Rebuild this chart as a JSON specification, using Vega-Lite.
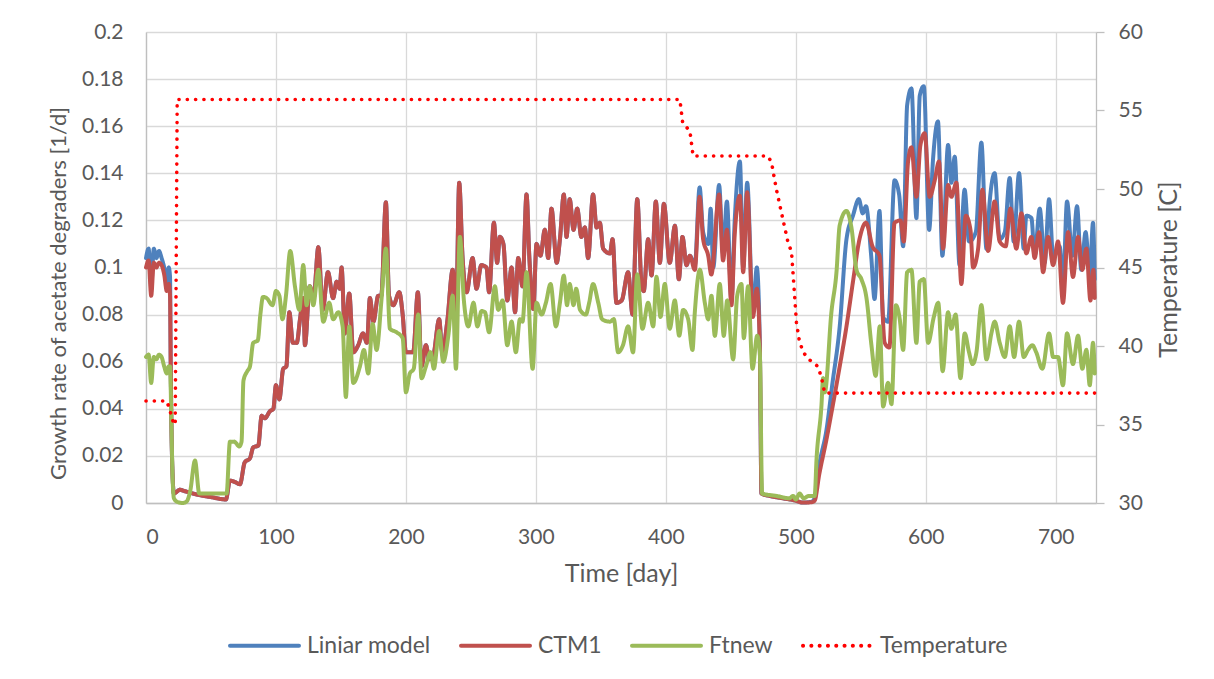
{
"$schema": "https://vega.github.io/schema/vega-lite/v6.json",
"autosize": {"type": "none"},
"width": 950, "height": 471,
"padding": {"left": 146, "top": 32, "right": 118, "bottom": 176},
"background": "white",
"datasets": {
"models": [
{"s":"Liniar model","d":0,"v":0.104},{"s":"Liniar model","d":2,"v":0.108},{"s":"Liniar model","d":4,"v":0.092},{"s":"Liniar model","d":6,"v":0.108},{"s":"Liniar model","d":8,"v":0.104},{"s":"Liniar model","d":10,"v":0.107},{"s":"Liniar model","d":12,"v":0.104},{"s":"Liniar model","d":14,"v":0.1},{"s":"Liniar model","d":16,"v":0.094},{"s":"Liniar model","d":17.5,"v":0.1},{"s":"Liniar model","d":18.5,"v":0.096},{"s":"Liniar model","d":19,"v":0.06},{"s":"Liniar model","d":20,"v":0.02},{"s":"Liniar model","d":21.5,"v":0.004},
{"s":"Liniar model","d":23,"v":0.0045},{"s":"Liniar model","d":26,"v":0.0056},{"s":"Liniar model","d":30,"v":0.005},{"s":"Liniar model","d":40,"v":0.0035},{"s":"Liniar model","d":50,"v":0.0025},{"s":"Liniar model","d":61.5,"v":0.0015},{"s":"Liniar model","d":64.6,"v":0.0095},{"s":"Liniar model","d":68,"v":0.009},{"s":"Liniar model","d":72.3,"v":0.008},{"s":"Liniar model","d":76,"v":0.0173},{"s":"Liniar model","d":80,"v":0.019},{"s":"Liniar model","d":82.5,"v":0.0236},{"s":"Liniar model","d":86.4,"v":0.0244},{"s":"Liniar model","d":89,"v":0.037},{"s":"Liniar model","d":91.5,"v":0.036},{"s":"Liniar model","d":95.4,"v":0.039},{"s":"Liniar model","d":98,"v":0.04},{"s":"Liniar model","d":100,"v":0.05},{"s":"Liniar model","d":102.6,"v":0.044},{"s":"Liniar model","d":105.6,"v":0.057},{"s":"Liniar model","d":108,"v":0.058},{"s":"Liniar model","d":110.3,"v":0.081},{"s":"Liniar model","d":113,"v":0.068},{"s":"Liniar model","d":116,"v":0.068},{"s":"Liniar model","d":118.5,"v":0.078},{"s":"Liniar model","d":121,"v":0.087},{"s":"Liniar model","d":122.3,"v":0.067},{"s":"Liniar model","d":126,"v":0.092},{"s":"Liniar model","d":129,"v":0.087},{"s":"Liniar model","d":132.6,"v":0.1086},{"s":"Liniar model","d":136,"v":0.082},{"s":"Liniar model","d":140,"v":0.098},{"s":"Liniar model","d":144,"v":0.087},{"s":"Liniar model","d":146.7,"v":0.094},{"s":"Liniar model","d":149,"v":0.091},{"s":"Liniar model","d":150.5,"v":0.1},{"s":"Liniar model","d":153,"v":0.072},{"s":"Liniar model","d":156.4,"v":0.089},{"s":"Liniar model","d":159.5,"v":0.064},{"s":"Liniar model","d":163.3,"v":0.067},{"s":"Liniar model","d":167,"v":0.072},{"s":"Liniar model","d":170,"v":0.068},{"s":"Liniar model","d":172.3,"v":0.087},{"s":"Liniar model","d":175,"v":0.077},{"s":"Liniar model","d":178.7,"v":0.088},{"s":"Liniar model","d":181,"v":0.088},{"s":"Liniar model","d":184.6,"v":0.1277},{"s":"Liniar model","d":187,"v":0.088},{"s":"Liniar model","d":190.3,"v":0.084},{"s":"Liniar model","d":194.9,"v":0.0895},{"s":"Liniar model","d":197.5,"v":0.08},{"s":"Liniar model","d":200,"v":0.064},{"s":"Liniar model","d":203,"v":0.064},{"s":"Liniar model","d":205.6,"v":0.064},{"s":"Liniar model","d":209.2,"v":0.0895},{"s":"Liniar model","d":212,"v":0.058},{"s":"Liniar model","d":215.4,"v":0.067},{"s":"Liniar model","d":218,"v":0.061},{"s":"Liniar model","d":221,"v":0.0625},{"s":"Liniar model","d":225.6,"v":0.078},{"s":"Liniar model","d":228,"v":0.064},{"s":"Liniar model","d":231.8,"v":0.077},{"s":"Liniar model","d":236,"v":0.099},{"s":"Liniar model","d":238.5,"v":0.077},{"s":"Liniar model","d":241,"v":0.136},{"s":"Liniar model","d":243.6,"v":0.104},{"s":"Liniar model","d":246.7,"v":0.0895},{"s":"Liniar model","d":251.3,"v":0.104},{"s":"Liniar model","d":254.3,"v":0.091},{"s":"Liniar model","d":258,"v":0.101},{"s":"Liniar model","d":262,"v":0.1},{"s":"Liniar model","d":264,"v":0.0895},{"s":"Liniar model","d":267.7,"v":0.119},{"s":"Liniar model","d":270.2,"v":0.102},{"s":"Liniar model","d":272.3,"v":0.113},{"s":"Liniar model","d":275,"v":0.11},{"s":"Liniar model","d":278,"v":0.086},{"s":"Liniar model","d":281.3,"v":0.1},{"s":"Liniar model","d":284,"v":0.081},{"s":"Liniar model","d":286.4,"v":0.104},{"s":"Liniar model","d":289.7,"v":0.092},{"s":"Liniar model","d":292.8,"v":0.131},{"s":"Liniar model","d":295,"v":0.104},{"s":"Liniar model","d":298,"v":0.0824},{"s":"Liniar model","d":300.5,"v":0.11},{"s":"Liniar model","d":303.5,"v":0.105},{"s":"Liniar model","d":306.9,"v":0.116},{"s":"Liniar model","d":309.5,"v":0.104},{"s":"Liniar model","d":312,"v":0.125},{"s":"Liniar model","d":316,"v":0.102},{"s":"Liniar model","d":318.5,"v":0.112},{"s":"Liniar model","d":321.5,"v":0.131},{"s":"Liniar model","d":323.6,"v":0.113},{"s":"Liniar model","d":326,"v":0.129},{"s":"Liniar model","d":329,"v":0.116},{"s":"Liniar model","d":331.8,"v":0.125},{"s":"Liniar model","d":335,"v":0.113},{"s":"Liniar model","d":337.7,"v":0.117},{"s":"Liniar model","d":340.2,"v":0.104},{"s":"Liniar model","d":344,"v":0.131},{"s":"Liniar model","d":346.7,"v":0.117},{"s":"Liniar model","d":349.2,"v":0.119},{"s":"Liniar model","d":351.8,"v":0.108},{"s":"Liniar model","d":357,"v":0.106},{"s":"Liniar model","d":359,"v":0.112},{"s":"Liniar model","d":362,"v":0.085},{"s":"Liniar model","d":366,"v":0.086},{"s":"Liniar model","d":371,"v":0.098},{"s":"Liniar model","d":374.4,"v":0.08},{"s":"Liniar model","d":378,"v":0.129},{"s":"Liniar model","d":381.3,"v":0.093},{"s":"Liniar model","d":383,"v":0.09},{"s":"Liniar model","d":386.4,"v":0.112},{"s":"Liniar model","d":389,"v":0.0966},{"s":"Liniar model","d":392.3,"v":0.128},{"s":"Liniar model","d":395.4,"v":0.102},{"s":"Liniar model","d":398.5,"v":0.127},{"s":"Liniar model","d":403,"v":0.102},{"s":"Liniar model","d":407,"v":0.1177},{"s":"Liniar model","d":410,"v":0.095},{"s":"Liniar model","d":412.8,"v":0.113},{"s":"Liniar model","d":415.9,"v":0.101},{"s":"Liniar model","d":418.5,"v":0.105},
{"s":"Liniar model","d":422.3,"v":0.101},{"s":"Liniar model","d":426,"v":0.134},{"s":"Liniar model","d":428.7,"v":0.115},{"s":"Liniar model","d":432.6,"v":0.11},{"s":"Liniar model","d":434.5,"v":0.125},{"s":"Liniar model","d":436.5,"v":0.1},{"s":"Liniar model","d":441,"v":0.135},{"s":"Liniar model","d":444,"v":0.106},{"s":"Liniar model","d":447,"v":0.128},{"s":"Liniar model","d":450.5,"v":0.086},{"s":"Liniar model","d":453,"v":0.12},{"s":"Liniar model","d":457,"v":0.145},{"s":"Liniar model","d":459.5,"v":0.1},{"s":"Liniar model","d":462.6,"v":0.136},{"s":"Liniar model","d":467,"v":0.081},{"s":"Liniar model","d":470,"v":0.1},{"s":"Liniar model","d":472.3,"v":0.068},{"s":"Liniar model","d":473.6,"v":0.004},{"s":"Liniar model","d":480,"v":0.003},{"s":"Liniar model","d":490,"v":0.002},{"s":"Liniar model","d":500,"v":0.001},{"s":"Liniar model","d":505,"v":0.0002},{"s":"Liniar model","d":512,"v":0.0005},{"s":"Liniar model","d":514.5,"v":0.002},{"s":"Liniar model","d":518,"v":0.016},{"s":"Liniar model","d":523.6,"v":0.031},{"s":"Liniar model","d":528,"v":0.05},{"s":"Liniar model","d":533.8,"v":0.075},{"s":"Liniar model","d":539,"v":0.112},{"s":"Liniar model","d":544,"v":0.122},{"s":"Liniar model","d":548.5,"v":0.129},{"s":"Liniar model","d":551.5,"v":0.123},{"s":"Liniar model","d":554,"v":0.126},{"s":"Liniar model","d":558,"v":0.105},{"s":"Liniar model","d":560.6,"v":0.0866},{"s":"Liniar model","d":564.4,"v":0.124},{"s":"Liniar model","d":567.2,"v":0.079},{"s":"Liniar model","d":571,"v":0.077},{"s":"Liniar model","d":576,"v":0.137},{"s":"Liniar model","d":579.5,"v":0.131},{"s":"Liniar model","d":582.6,"v":0.109},{"s":"Liniar model","d":585.7,"v":0.169},{"s":"Liniar model","d":589,"v":0.176},{"s":"Liniar model","d":592.8,"v":0.121},{"s":"Liniar model","d":595.4,"v":0.173},{"s":"Liniar model","d":598.5,"v":0.177},{"s":"Liniar model","d":602.6,"v":0.116},{"s":"Liniar model","d":605.6,"v":0.146},{"s":"Liniar model","d":609.4,"v":0.162},{"s":"Liniar model","d":612.8,"v":0.105},{"s":"Liniar model","d":617.2,"v":0.152},{"s":"Liniar model","d":619.7,"v":0.136},{"s":"Liniar model","d":622.3,"v":0.147},{"s":"Liniar model","d":626,"v":0.101},{"s":"Liniar model","d":629.9,"v":0.133},{"s":"Liniar model","d":633.3,"v":0.111},{"s":"Liniar model","d":638.5,"v":0.115},{"s":"Liniar model","d":642.8,"v":0.153},{"s":"Liniar model","d":646.7,"v":0.108},{"s":"Liniar model","d":649.2,"v":0.128},{"s":"Liniar model","d":653,"v":0.14},{"s":"Liniar model","d":656.9,"v":0.112},{"s":"Liniar model","d":660.8,"v":0.115},{"s":"Liniar model","d":664.6,"v":0.138},{"s":"Liniar model","d":667.7,"v":0.111},{"s":"Liniar model","d":671.8,"v":0.14},{"s":"Liniar model","d":675.4,"v":0.108},{"s":"Liniar model","d":677.4,"v":0.122},{"s":"Liniar model","d":681.3,"v":0.121},{"s":"Liniar model","d":683.8,"v":0.105},{"s":"Liniar model","d":687.7,"v":0.125},{"s":"Liniar model","d":691.5,"v":0.102},{"s":"Liniar model","d":694.9,"v":0.129},{"s":"Liniar model","d":698,"v":0.105},{"s":"Liniar model","d":703,"v":0.109},{"s":"Liniar model","d":705.6,"v":0.092},{"s":"Liniar model","d":708.7,"v":0.128},{"s":"Liniar model","d":712.8,"v":0.105},{"s":"Liniar model","d":716.4,"v":0.126},{"s":"Liniar model","d":719.7,"v":0.099},{"s":"Liniar model","d":723,"v":0.115},{"s":"Liniar model","d":726.2,"v":0.097},{"s":"Liniar model","d":728.7,"v":0.119},{"s":"Liniar model","d":730,"v":0.095},
{"s":"CTM1","d":0,"v":0.1},{"s":"CTM1","d":2,"v":0.103},{"s":"CTM1","d":4,"v":0.088},{"s":"CTM1","d":6,"v":0.102},{"s":"CTM1","d":8,"v":0.1},{"s":"CTM1","d":10,"v":0.102},{"s":"CTM1","d":12,"v":0.101},{"s":"CTM1","d":14,"v":0.097},{"s":"CTM1","d":16,"v":0.09},{"s":"CTM1","d":17.5,"v":0.093},{"s":"CTM1","d":18.5,"v":0.088},{"s":"CTM1","d":19,"v":0.06},{"s":"CTM1","d":20,"v":0.02},{"s":"CTM1","d":21.5,"v":0.004},{"s":"CTM1","d":23,"v":0.0045},{"s":"CTM1","d":26,"v":0.0056},{"s":"CTM1","d":30,"v":0.005},{"s":"CTM1","d":40,"v":0.0035},{"s":"CTM1","d":50,"v":0.0025},{"s":"CTM1","d":61.5,"v":0.0015},{"s":"CTM1","d":64.6,"v":0.0095},{"s":"CTM1","d":68,"v":0.009},{"s":"CTM1","d":72.3,"v":0.008},{"s":"CTM1","d":76,"v":0.0173},{"s":"CTM1","d":80,"v":0.019},{"s":"CTM1","d":82.5,"v":0.0236},{"s":"CTM1","d":86.4,"v":0.0244},{"s":"CTM1","d":89,"v":0.037},{"s":"CTM1","d":91.5,"v":0.036},{"s":"CTM1","d":95.4,"v":0.039},{"s":"CTM1","d":98,"v":0.04},{"s":"CTM1","d":100,"v":0.05},{"s":"CTM1","d":102.6,"v":0.044},{"s":"CTM1","d":105.6,"v":0.057},{"s":"CTM1","d":108,"v":0.058},{"s":"CTM1","d":110.3,"v":0.081},{"s":"CTM1","d":113,"v":0.068},{"s":"CTM1","d":116,"v":0.068},{"s":"CTM1","d":118.5,"v":0.078},{"s":"CTM1","d":121,"v":0.087},{"s":"CTM1","d":122.3,"v":0.067},{"s":"CTM1","d":126,"v":0.092},{"s":"CTM1","d":129,"v":0.087},{"s":"CTM1","d":132.6,"v":0.1086},{"s":"CTM1","d":136,"v":0.082},{"s":"CTM1","d":140,"v":0.098},{"s":"CTM1","d":144,"v":0.087},{"s":"CTM1","d":146.7,"v":0.094},{"s":"CTM1","d":149,"v":0.091},{"s":"CTM1","d":150.5,"v":0.1},{"s":"CTM1","d":153,"v":0.072},{"s":"CTM1","d":156.4,"v":0.089},{"s":"CTM1","d":159.5,"v":0.064},{"s":"CTM1","d":163.3,"v":0.067},{"s":"CTM1","d":167,"v":0.072},{"s":"CTM1","d":170,"v":0.068},{"s":"CTM1","d":172.3,"v":0.087},{"s":"CTM1","d":175,"v":0.077},{"s":"CTM1","d":178.7,"v":0.088},{"s":"CTM1","d":181,"v":0.088},{"s":"CTM1","d":184.6,"v":0.1277},{"s":"CTM1","d":187,"v":0.088},{"s":"CTM1","d":190.3,"v":0.084},{"s":"CTM1","d":194.9,"v":0.0895},{"s":"CTM1","d":197.5,"v":0.08},{"s":"CTM1","d":200,"v":0.064},{"s":"CTM1","d":203,"v":0.064},{"s":"CTM1","d":205.6,"v":0.064},{"s":"CTM1","d":209.2,"v":0.0895},{"s":"CTM1","d":212,"v":0.058},{"s":"CTM1","d":215.4,"v":0.067},{"s":"CTM1","d":218,"v":0.061},{"s":"CTM1","d":221,"v":0.0625},{"s":"CTM1","d":225.6,"v":0.078},{"s":"CTM1","d":228,"v":0.064},{"s":"CTM1","d":231.8,"v":0.077},{"s":"CTM1","d":236,"v":0.099},{"s":"CTM1","d":238.5,"v":0.077},{"s":"CTM1","d":241,"v":0.136},{"s":"CTM1","d":243.6,"v":0.104},{"s":"CTM1","d":246.7,"v":0.0895},{"s":"CTM1","d":251.3,"v":0.104},{"s":"CTM1","d":254.3,"v":0.091},{"s":"CTM1","d":258,"v":0.101},{"s":"CTM1","d":262,"v":0.1},{"s":"CTM1","d":264,"v":0.0895},{"s":"CTM1","d":267.7,"v":0.119},{"s":"CTM1","d":270.2,"v":0.102},{"s":"CTM1","d":272.3,"v":0.113},{"s":"CTM1","d":275,"v":0.11},{"s":"CTM1","d":278,"v":0.086},{"s":"CTM1","d":281.3,"v":0.1},{"s":"CTM1","d":284,"v":0.081},{"s":"CTM1","d":286.4,"v":0.104},{"s":"CTM1","d":289.7,"v":0.092},{"s":"CTM1","d":292.8,"v":0.131},{"s":"CTM1","d":295,"v":0.104},{"s":"CTM1","d":298,"v":0.0824},{"s":"CTM1","d":300.5,"v":0.11},{"s":"CTM1","d":303.5,"v":0.105},{"s":"CTM1","d":306.9,"v":0.116},{"s":"CTM1","d":309.5,"v":0.104},{"s":"CTM1","d":312,"v":0.125},{"s":"CTM1","d":316,"v":0.102},{"s":"CTM1","d":318.5,"v":0.112},{"s":"CTM1","d":321.5,"v":0.131},{"s":"CTM1","d":323.6,"v":0.113},{"s":"CTM1","d":326,"v":0.129},{"s":"CTM1","d":329,"v":0.116},{"s":"CTM1","d":331.8,"v":0.125},{"s":"CTM1","d":335,"v":0.113},{"s":"CTM1","d":337.7,"v":0.117},{"s":"CTM1","d":340.2,"v":0.104},{"s":"CTM1","d":344,"v":0.131},{"s":"CTM1","d":346.7,"v":0.117},{"s":"CTM1","d":349.2,"v":0.119},{"s":"CTM1","d":351.8,"v":0.108},{"s":"CTM1","d":357,"v":0.106},{"s":"CTM1","d":359,"v":0.112},{"s":"CTM1","d":362,"v":0.085},{"s":"CTM1","d":366,"v":0.086},{"s":"CTM1","d":371,"v":0.098},{"s":"CTM1","d":374.4,"v":0.08},{"s":"CTM1","d":378,"v":0.129},{"s":"CTM1","d":381.3,"v":0.093},{"s":"CTM1","d":383,"v":0.09},{"s":"CTM1","d":386.4,"v":0.112},{"s":"CTM1","d":389,"v":0.0966},{"s":"CTM1","d":392.3,"v":0.128},{"s":"CTM1","d":395.4,"v":0.102},{"s":"CTM1","d":398.5,"v":0.127},{"s":"CTM1","d":403,"v":0.102},{"s":"CTM1","d":407,"v":0.1177},{"s":"CTM1","d":410,"v":0.095},{"s":"CTM1","d":412.8,"v":0.113},{"s":"CTM1","d":415.9,"v":0.101},{"s":"CTM1","d":418.5,"v":0.105},{"s":"CTM1","d":422.3,"v":0.099},{"s":"CTM1","d":426,"v":0.13},{"s":"CTM1","d":428.7,"v":0.112},{"s":"CTM1","d":432.6,"v":0.105},{"s":"CTM1","d":435,"v":0.097},{"s":"CTM1","d":441,"v":0.131},{"s":"CTM1","d":444,"v":0.103},{"s":"CTM1","d":447,"v":0.116},{"s":"CTM1","d":450.5,"v":0.084},{"s":"CTM1","d":453,"v":0.114},{"s":"CTM1","d":457,"v":0.1305},{"s":"CTM1","d":459.5,"v":0.098},{"s":"CTM1","d":462.6,"v":0.132},{"s":"CTM1","d":467,"v":0.079},{"s":"CTM1","d":470,"v":0.091},{"s":"CTM1","d":472.3,"v":0.067},{"s":"CTM1","d":473.6,"v":0.004},{"s":"CTM1","d":480,"v":0.003},{"s":"CTM1","d":490,"v":0.002},{"s":"CTM1","d":500,"v":0.001},{"s":"CTM1","d":505,"v":0.0002},{"s":"CTM1","d":512,"v":0.0003},{"s":"CTM1","d":514.5,"v":0.001},{"s":"CTM1","d":518,"v":0.012},{"s":"CTM1","d":523.6,"v":0.027},{"s":"CTM1","d":528,"v":0.04},{"s":"CTM1","d":533.8,"v":0.058},{"s":"CTM1","d":539,"v":0.075},{"s":"CTM1","d":544,"v":0.094},{"s":"CTM1","d":549,"v":0.112},{"s":"CTM1","d":554,"v":0.119},{"s":"CTM1","d":559,"v":0.109},{"s":"CTM1","d":564.4,"v":0.105},{"s":"CTM1","d":568.4,"v":0.068},{"s":"CTM1","d":572,"v":0.066},{"s":"CTM1","d":576,"v":0.119},{"s":"CTM1","d":580.6,"v":0.12},{"s":"CTM1","d":583.1,"v":0.111},{"s":"CTM1","d":586.4,"v":0.145},{"s":"CTM1","d":589,"v":0.151},{"s":"CTM1","d":592.8,"v":0.13},{"s":"CTM1","d":595.9,"v":0.152},{"s":"CTM1","d":599.2,"v":0.157},{"s":"CTM1","d":603,"v":0.13},{"s":"CTM1","d":606.9,"v":0.137},{"s":"CTM1","d":610.2,"v":0.145},{"s":"CTM1","d":613.3,"v":0.108},{"s":"CTM1","d":617.2,"v":0.135},{"s":"CTM1","d":619.7,"v":0.13},{"s":"CTM1","d":623.6,"v":0.136},{"s":"CTM1","d":627.4,"v":0.093},{"s":"CTM1","d":630.8,"v":0.122},{"s":"CTM1","d":634.4,"v":0.116},{"s":"CTM1","d":636.4,"v":0.1},{"s":"CTM1","d":640.3,"v":0.108},{"s":"CTM1","d":643.6,"v":0.133},{"s":"CTM1","d":648,"v":0.107},{"s":"CTM1","d":653,"v":0.128},{"s":"CTM1","d":656.9,"v":0.111},{"s":"CTM1","d":661.5,"v":0.109},{"s":"CTM1","d":665.1,"v":0.125},{"s":"CTM1","d":669.7,"v":0.108},{"s":"CTM1","d":673.6,"v":0.123},{"s":"CTM1","d":677.4,"v":0.106},{"s":"CTM1","d":681.3,"v":0.113},{"s":"CTM1","d":683.8,"v":0.104},{"s":"CTM1","d":687.2,"v":0.115},{"s":"CTM1","d":690.3,"v":0.098},{"s":"CTM1","d":694.1,"v":0.113},{"s":"CTM1","d":698,"v":0.101},{"s":"CTM1","d":701.8,"v":0.111},{"s":"CTM1","d":705.6,"v":0.085},{"s":"CTM1","d":709.5,"v":0.115},{"s":"CTM1","d":713.3,"v":0.096},{"s":"CTM1","d":717.2,"v":0.113},{"s":"CTM1","d":720.5,"v":0.099},{"s":"CTM1","d":723.6,"v":0.108},{"s":"CTM1","d":726.7,"v":0.086},{"s":"CTM1","d":729,"v":0.099},{"s":"CTM1","d":730,"v":0.087},
{"s":"Ftnew","d":0,"v":0.062},{"s":"Ftnew","d":2,"v":0.063},{"s":"Ftnew","d":4,"v":0.051},{"s":"Ftnew","d":6,"v":0.062},{"s":"Ftnew","d":8,"v":0.061},{"s":"Ftnew","d":10,"v":0.063},{"s":"Ftnew","d":12,"v":0.062},{"s":"Ftnew","d":14,"v":0.058},{"s":"Ftnew","d":16,"v":0.055},{"s":"Ftnew","d":17.5,"v":0.058},{"s":"Ftnew","d":18.5,"v":0.058},{"s":"Ftnew","d":19.5,"v":0.035},{"s":"Ftnew","d":20.5,"v":0.01},{"s":"Ftnew","d":21.5,"v":0.002},{"s":"Ftnew","d":24,"v":0.0005},{"s":"Ftnew","d":28,"v":0.0},{"s":"Ftnew","d":31,"v":0.0005},{"s":"Ftnew","d":34,"v":0.005},{"s":"Ftnew","d":37.7,"v":0.018},{"s":"Ftnew","d":41,"v":0.004},{"s":"Ftnew","d":50,"v":0.004},{"s":"Ftnew","d":62,"v":0.004},{"s":"Ftnew","d":64.6,"v":0.026},{"s":"Ftnew","d":68,"v":0.026},{"s":"Ftnew","d":71.8,"v":0.024},{"s":"Ftnew","d":73.5,"v":0.026},{"s":"Ftnew","d":75,"v":0.052},{"s":"Ftnew","d":78,"v":0.056},{"s":"Ftnew","d":80,"v":0.058},{"s":"Ftnew","d":82.5,"v":0.068},{"s":"Ftnew","d":86,"v":0.069},{"s":"Ftnew","d":88,"v":0.08},{"s":"Ftnew","d":90,"v":0.0875},{"s":"Ftnew","d":92.8,"v":0.087},{"s":"Ftnew","d":97.4,"v":0.084},{"s":"Ftnew","d":100,"v":0.09},{"s":"Ftnew","d":102.6,"v":0.088},{"s":"Ftnew","d":105,"v":0.078},{"s":"Ftnew","d":107.7,"v":0.088},{"s":"Ftnew","d":111,"v":0.107},{"s":"Ftnew","d":114.6,"v":0.092},{"s":"Ftnew","d":118,"v":0.082},{"s":"Ftnew","d":121,"v":0.101},{"s":"Ftnew","d":123.6,"v":0.084},{"s":"Ftnew","d":126,"v":0.092},{"s":"Ftnew","d":128.7,"v":0.084},{"s":"Ftnew","d":132.6,"v":0.099},{"s":"Ftnew","d":136.4,"v":0.077},{"s":"Ftnew","d":141,"v":0.085},{"s":"Ftnew","d":144,"v":0.078},{"s":"Ftnew","d":148,"v":0.081},{"s":"Ftnew","d":151.3,"v":0.075},{"s":"Ftnew","d":153.8,"v":0.045},{"s":"Ftnew","d":156.4,"v":0.075},{"s":"Ftnew","d":159.5,"v":0.051},{"s":"Ftnew","d":164.6,"v":0.058},{"s":"Ftnew","d":167.7,"v":0.065},{"s":"Ftnew","d":171,"v":0.055},{"s":"Ftnew","d":174.4,"v":0.076},{"s":"Ftnew","d":177.4,"v":0.065},{"s":"Ftnew","d":181.3,"v":0.087},{"s":"Ftnew","d":184.6,"v":0.108},{"s":"Ftnew","d":187.7,"v":0.074},{"s":"Ftnew","d":192.8,"v":0.0725},{"s":"Ftnew","d":197.5,"v":0.07},{"s":"Ftnew","d":200,"v":0.047},{"s":"Ftnew","d":203,"v":0.055},{"s":"Ftnew","d":206,"v":0.057},{"s":"Ftnew","d":209.5,"v":0.08},{"s":"Ftnew","d":212,"v":0.053},{"s":"Ftnew","d":215.4,"v":0.058},{"s":"Ftnew","d":219,"v":0.064},{"s":"Ftnew","d":221.5,"v":0.057},{"s":"Ftnew","d":225.6,"v":0.073},{"s":"Ftnew","d":228.7,"v":0.06},{"s":"Ftnew","d":232.6,"v":0.071},{"s":"Ftnew","d":236,"v":0.088},{"s":"Ftnew","d":238.5,"v":0.057},{"s":"Ftnew","d":241.5,"v":0.113},{"s":"Ftnew","d":244.6,"v":0.086},{"s":"Ftnew","d":248,"v":0.075},{"s":"Ftnew","d":252,"v":0.085},{"s":"Ftnew","d":255,"v":0.075},{"s":"Ftnew","d":258.2,"v":0.0815},{"s":"Ftnew","d":260.8,"v":0.081},{"s":"Ftnew","d":264,"v":0.0725},{"s":"Ftnew","d":268.5,"v":0.092},{"s":"Ftnew","d":271,"v":0.082},{"s":"Ftnew","d":274.4,"v":0.086},{"s":"Ftnew","d":278,"v":0.067},{"s":"Ftnew","d":281.3,"v":0.077},{"s":"Ftnew","d":284.6,"v":0.064},{"s":"Ftnew","d":287.7,"v":0.078},{"s":"Ftnew","d":289.7,"v":0.077},{"s":"Ftnew","d":292.8,"v":0.098},{"s":"Ftnew","d":297.5,"v":0.057},{"s":"Ftnew","d":300.5,"v":0.085},{"s":"Ftnew","d":304.4,"v":0.08},{"s":"Ftnew","d":307.7,"v":0.085},{"s":"Ftnew","d":311.3,"v":0.093},{"s":"Ftnew","d":315.4,"v":0.075},{"s":"Ftnew","d":318.5,"v":0.085},{"s":"Ftnew","d":321.5,"v":0.0965},{"s":"Ftnew","d":324,"v":0.084},{"s":"Ftnew","d":326,"v":0.093},{"s":"Ftnew","d":329,"v":0.084},{"s":"Ftnew","d":331,"v":0.091},{"s":"Ftnew","d":334,"v":0.082},{"s":"Ftnew","d":338.4,"v":0.08},{"s":"Ftnew","d":341,"v":0.085},{"s":"Ftnew","d":344,"v":0.093},{"s":"Ftnew","d":348,"v":0.085},{"s":"Ftnew","d":351,"v":0.078},{"s":"Ftnew","d":357,"v":0.077},{"s":"Ftnew","d":360,"v":0.078},{"s":"Ftnew","d":363.3,"v":0.064},{"s":"Ftnew","d":367,"v":0.067},{"s":"Ftnew","d":371,"v":0.075},{"s":"Ftnew","d":374.8,"v":0.064},{"s":"Ftnew","d":378,"v":0.097},{"s":"Ftnew","d":382,"v":0.074},{"s":"Ftnew","d":386.4,"v":0.085},{"s":"Ftnew","d":390.3,"v":0.075},{"s":"Ftnew","d":392.8,"v":0.096},{"s":"Ftnew","d":395.9,"v":0.079},{"s":"Ftnew","d":399.2,"v":0.093},{"s":"Ftnew","d":403,"v":0.074},{"s":"Ftnew","d":406.9,"v":0.086},{"s":"Ftnew","d":410.3,"v":0.071},{"s":"Ftnew","d":413.3,"v":0.082},{"s":"Ftnew","d":417.2,"v":0.078},{"s":"Ftnew","d":420.5,"v":0.065},{"s":"Ftnew","d":422.3,"v":0.081},{"s":"Ftnew","d":426.2,"v":0.099},{"s":"Ftnew","d":430,"v":0.085},{"s":"Ftnew","d":432.6,"v":0.078},{"s":"Ftnew","d":435.1,"v":0.088},{"s":"Ftnew","d":437.7,"v":0.071},{"s":"Ftnew","d":441.5,"v":0.093},{"s":"Ftnew","d":444.6,"v":0.071},{"s":"Ftnew","d":447.2,"v":0.086},{"s":"Ftnew","d":451.8,"v":0.061},{"s":"Ftnew","d":454.9,"v":0.088},{"s":"Ftnew","d":458.2,"v":0.093},{"s":"Ftnew","d":460,"v":0.07},{"s":"Ftnew","d":463.3,"v":0.092},{"s":"Ftnew","d":466.7,"v":0.057},{"s":"Ftnew","d":470.3,"v":0.071},{"s":"Ftnew","d":472.3,"v":0.064},{"s":"Ftnew","d":474.1,"v":0.004},{"s":"Ftnew","d":485,"v":0.003},{"s":"Ftnew","d":495,"v":0.002},{"s":"Ftnew","d":498,"v":0.003},{"s":"Ftnew","d":500,"v":0.0015},{"s":"Ftnew","d":503,"v":0.004},{"s":"Ftnew","d":506,"v":0.002},{"s":"Ftnew","d":510,"v":0.003},{"s":"Ftnew","d":514.5,"v":0.003},{"s":"Ftnew","d":516,"v":0.019},{"s":"Ftnew","d":519.7,"v":0.041},{"s":"Ftnew","d":521,"v":0.053},{"s":"Ftnew","d":522.3,"v":0.047},{"s":"Ftnew","d":527.4,"v":0.081},{"s":"Ftnew","d":531.3,"v":0.098},{"s":"Ftnew","d":533.8,"v":0.118},{"s":"Ftnew","d":539,"v":0.124},{"s":"Ftnew","d":542.8,"v":0.117},{"s":"Ftnew","d":546.7,"v":0.099},{"s":"Ftnew","d":550.5,"v":0.095},{"s":"Ftnew","d":554.4,"v":0.087},{"s":"Ftnew","d":558.2,"v":0.067},{"s":"Ftnew","d":561.5,"v":0.054},{"s":"Ftnew","d":564.6,"v":0.075},{"s":"Ftnew","d":567.2,"v":0.041},{"s":"Ftnew","d":571,"v":0.051},{"s":"Ftnew","d":573.6,"v":0.042},{"s":"Ftnew","d":577,"v":0.084},{"s":"Ftnew","d":580,"v":0.078},{"s":"Ftnew","d":582.6,"v":0.065},{"s":"Ftnew","d":585.7,"v":0.098},{"s":"Ftnew","d":589,"v":0.099},{"s":"Ftnew","d":592.8,"v":0.068},{"s":"Ftnew","d":595.4,"v":0.094},{"s":"Ftnew","d":598.5,"v":0.095},{"s":"Ftnew","d":601.8,"v":0.068},{"s":"Ftnew","d":606.2,"v":0.079},{"s":"Ftnew","d":609.6,"v":0.085},{"s":"Ftnew","d":613,"v":0.056},{"s":"Ftnew","d":617.2,"v":0.081},{"s":"Ftnew","d":619.7,"v":0.074},{"s":"Ftnew","d":623,"v":0.08},{"s":"Ftnew","d":626.7,"v":0.053},{"s":"Ftnew","d":630,"v":0.072},{"s":"Ftnew","d":633.3,"v":0.064},{"s":"Ftnew","d":636,"v":0.059},{"s":"Ftnew","d":639,"v":0.064},{"s":"Ftnew","d":642.8,"v":0.084},{"s":"Ftnew","d":646.7,"v":0.061},{"s":"Ftnew","d":650.5,"v":0.072},{"s":"Ftnew","d":653,"v":0.077},{"s":"Ftnew","d":656.9,"v":0.068},{"s":"Ftnew","d":660.8,"v":0.062},{"s":"Ftnew","d":664.6,"v":0.075},{"s":"Ftnew","d":668,"v":0.062},{"s":"Ftnew","d":671.8,"v":0.077},{"s":"Ftnew","d":675.4,"v":0.062},{"s":"Ftnew","d":678.7,"v":0.065},{"s":"Ftnew","d":682,"v":0.067},{"s":"Ftnew","d":685,"v":0.064},{"s":"Ftnew","d":689.7,"v":0.057},{"s":"Ftnew","d":694.9,"v":0.072},{"s":"Ftnew","d":698,"v":0.062},{"s":"Ftnew","d":701.8,"v":0.062},{"s":"Ftnew","d":705.6,"v":0.05},{"s":"Ftnew","d":708.7,"v":0.072},{"s":"Ftnew","d":713.3,"v":0.059},{"s":"Ftnew","d":717.2,"v":0.071},{"s":"Ftnew","d":720.5,"v":0.057},{"s":"Ftnew","d":723.6,"v":0.065},{"s":"Ftnew","d":726.2,"v":0.05},{"s":"Ftnew","d":728.7,"v":0.068},{"s":"Ftnew","d":730,"v":0.055}
],
"temp": [
{"s":"Temperature","d":0,"t":36.5},{"s":"Temperature","d":16,"t":36.5},{"s":"Temperature","d":18,"t":36},{"s":"Temperature","d":21.5,"t":35},{"s":"Temperature","d":22.5,"t":35},{"s":"Temperature","d":24,"t":55.7},{"s":"Temperature","d":410.8,"t":55.7},{"s":"Temperature","d":413,"t":54.2},{"s":"Temperature","d":418.5,"t":53.7},{"s":"Temperature","d":421,"t":52.1},{"s":"Temperature","d":478.5,"t":52.1},{"s":"Temperature","d":481.3,"t":51.7},{"s":"Temperature","d":485,"t":50},{"s":"Temperature","d":490,"t":48.1},{"s":"Temperature","d":494,"t":46.6},{"s":"Temperature","d":496.7,"t":46},{"s":"Temperature","d":498,"t":44.5},{"s":"Temperature","d":500.5,"t":41.5},{"s":"Temperature","d":502.6,"t":40.4},{"s":"Temperature","d":505.6,"t":39.6},{"s":"Temperature","d":510.8,"t":39.1},{"s":"Temperature","d":517,"t":38.7},{"s":"Temperature","d":519.7,"t":38},{"s":"Temperature","d":522.3,"t":37},{"s":"Temperature","d":730,"t":37}
]
},
"layer": [
{
"data": {"name": "models"},
"mark": {"type": "line", "strokeWidth": 4, "interpolate": "monotone", "strokeCap": "round", "strokeJoin": "round"},
"encoding": {
"x": {"field": "d", "type": "quantitative", "scale": {"domain": [0, 731], "nice": false, "zero": false},
"axis": {"title": "Time [day]", "values": [0,100,200,300,400,500,600,700], "ticks": false, "labelPadding": 23, "grid": true, "titleX": 475, "titleY": 70, "titleBaseline": "middle", "titleFontSize": 25}},
"y": {"field": "v", "type": "quantitative", "scale": {"domain": [0, 0.2], "nice": false},
"axis": {"title": "Growth rate of acetate degraders [1/d]", "values": [0,0.02,0.04,0.06,0.08,0.1,0.12,0.14,0.16,0.18,0.2], "format": ".2~f", "ticks": false, "labelPadding": 23, "grid": true, "titleX": -88, "titleY": 261, "titleBaseline": "middle", "titleAngle": -90, "titleFontSize": 22}},
"color": {"field": "s", "type": "nominal", "scale": {"domain": ["Liniar model","CTM1","Ftnew","Temperature"], "range": ["#4F81BD","#C0504D","#9BBB59","#FF0000"]},
"legend": {"title": null, "orient": "none", "legendX": 82, "legendY": 577, "direction": "horizontal", "columns": 4, "symbolType": "stroke", "symbolSize": 4761, "symbolStrokeWidth": 4, "labelFont": "Lato", "labelFontSize": 23, "labelColor": "#595959", "columnPadding": 22, "labelOffset": 6, "encode": {"symbols": {"update": {"strokeCap": {"value": "round"}}}}}},
"strokeDash": {"field": "s", "type": "nominal", "scale": {"domain": ["Liniar model","CTM1","Ftnew","Temperature"], "range": [[1,0],[1,0],[1,0],[0.1,8.2]]},
"legend": {"title": null, "orient": "none", "legendX": 82, "legendY": 577, "direction": "horizontal", "columns": 4, "symbolType": "stroke", "symbolSize": 4761, "symbolStrokeWidth": 4, "labelFont": "Lato", "labelFontSize": 23, "labelColor": "#595959", "columnPadding": 22, "labelOffset": 6, "encode": {"symbols": {"update": {"strokeCap": {"value": "round"}}}}}}
}
},
{
"data": {"name": "temp"},
"mark": {"type": "line", "strokeWidth": 3.6, "strokeCap": "round"},
"encoding": {
"x": {"field": "d", "type": "quantitative"},
"y": {"field": "t", "type": "quantitative", "scale": {"domain": [30, 60], "nice": false, "zero": false},
"axis": {"orient": "right", "title": "Temperature [C]", "values": [30,35,40,45,50,55,60], "grid": false, "ticks": true, "tickSize": 8, "labelPadding": 14, "titleX": 72, "titleY": 237, "titleBaseline": "middle", "titleAngle": -90, "titleFontSize": 25}},
"color": {"field": "s", "type": "nominal"},
"strokeDash": {"field": "s", "type": "nominal"}
}
}
],
"resolve": {"scale": {"y": "independent"}, "axis": {"y": "independent"}},
"config": {
"view": {"stroke": null},
"axis": {"labelFont": "Lato", "labelFontSize": 21, "labelColor": "#595959", "titleFont": "Lato", "titleFontSize": 22, "titleFontWeight": "normal", "titleColor": "#595959", "gridColor": "#D9D9D9", "gridWidth": 1.3, "domainColor": "#BFBFBF", "domainWidth": 1.3, "tickColor": "#BFBFBF", "tickWidth": 1.3}
}
}
